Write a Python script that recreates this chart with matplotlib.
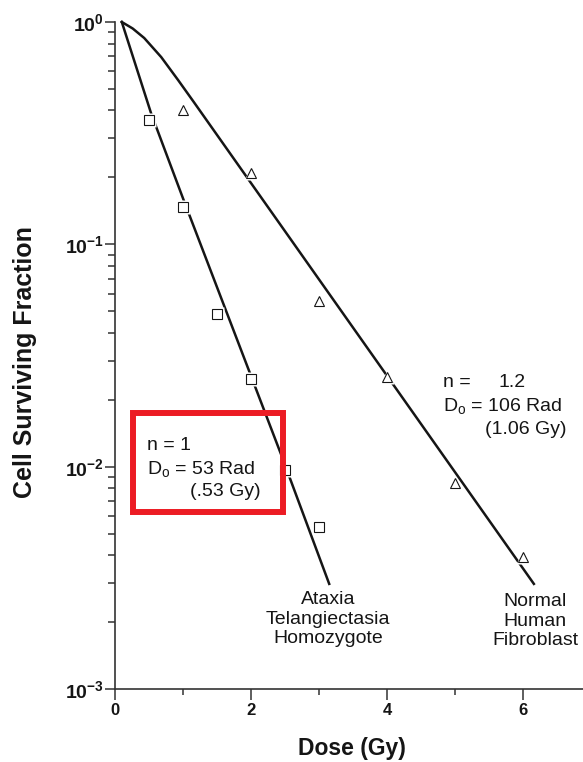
import numpy as np
import matplotlib
matplotlib.use('Agg')
import matplotlib.pyplot as plt
from matplotlib.patches import Rectangle
from matplotlib.ticker import FixedLocator, FuncFormatter

plt.rcParams['font.family'] = ['Liberation Sans', 'DejaVu Sans']
plt.rcParams['mathtext.fontset'] = 'custom'
plt.rcParams['mathtext.rm'] = 'Liberation Sans'
plt.rcParams['mathtext.it'] = 'Liberation Sans:italic'
plt.rcParams['mathtext.bf'] = 'Liberation Sans:bold'

# measured survival points
at_dose = [0.5, 1.0, 1.5, 2.0, 2.5, 3.0]
at_surv = [0.362, 0.147, 0.0484, 0.0247, 0.00969, 0.00537]
normal_dose = [1.0, 2.0, 3.0, 4.0, 5.0, 6.0]
normal_surv = [0.401, 0.209, 0.0554, 0.0252, 0.00847, 0.00394]

# fitted survival curves
at_fit_dose = [0.10, 0.53, 1.01, 2.44, 3.15]
at_fit_surv = [1.0, 0.389, 0.158, 0.0114, 0.00297]
normal_fit_dose = [0.10, 0.26, 0.43, 0.68, 0.93, 1.16, 2.25, 6.16]
normal_fit_surv = [1.0, 0.935, 0.847, 0.695, 0.547, 0.436, 0.147, 0.00297]

x_major = [0, 2, 4, 6]
x_minor = [1, 3, 5]
y_major = [1e-3, 1e-2, 1e-1, 1e0]

W, H = 583, 762
fig = plt.figure(figsize=(W / 100, H / 100), dpi=100)
ax = fig.add_axes([115 / W, 1 - 689 / H, 1 - 115 / W, (689 - 22) / H])

ink = '#151515'
ax.plot(at_fit_dose, at_fit_surv, color=ink, lw=1.8, zorder=2, clip_on=False,
        solid_joinstyle='round')
ax.plot(normal_fit_dose, normal_fit_surv, color=ink, lw=1.8, zorder=2,
        clip_on=False, solid_joinstyle='round')

# white halo under the open markers breaks the fit line around each point
ax.plot(at_dose, at_surv, ls='none', marker='s', ms=9.5, mfc='white',
        mec='none', zorder=3)
ax.plot(normal_dose, normal_surv, ls='none', marker='^', ms=9.5, mfc='white',
        mec='none', zorder=3)
ax.plot(at_dose, at_surv, ls='none', marker='s', ms=6.5, mfc='white',
        mec=ink, mew=0.8, zorder=4)
ax.plot(normal_dose, normal_surv, ls='none', marker='^', ms=6.8, mfc='white',
        mec=ink, mew=0.8, zorder=4)

ax.set_yscale('log')
ax.set_ylim(1e-3, 1)
ax.set_xlim(0, (W - 115) / 68)

ax.xaxis.set_major_locator(FixedLocator(x_major))
ax.xaxis.set_minor_locator(FixedLocator(x_minor))
ax.yaxis.set_major_locator(FixedLocator(y_major))
ax.yaxis.set_major_formatter(
    FuncFormatter(lambda v, p: r'$\mathbf{10^{%d}}$' % round(np.log10(v))))
ax.yaxis.set_minor_formatter(FuncFormatter(lambda v, p: ''))

for s in ['top', 'right']:
    ax.spines[s].set_visible(False)
for s in ['left', 'bottom']:
    ax.spines[s].set_linewidth(1.2)
    ax.spines[s].set_color('#333333')

ax.tick_params(axis='x', which='major', direction='out', length=8, width=1.1,
               pad=2, labelsize=12, colors='#333333', labelcolor=ink)
ax.tick_params(axis='x', which='minor', direction='out', length=4.5, width=1.1,
               colors='#333333')
ax.tick_params(axis='y', which='major', direction='out', length=7, width=1.1,
               pad=1, labelsize=14, colors='#333333', labelcolor=ink)
ax.tick_params(axis='y', which='minor', direction='out', length=5, width=1.1,
               colors='#333333')
for lab in ax.get_xticklabels():
    lab.set_fontweight('bold')

fig.text(352 / W, 1 - 749 / H, 'Dose (Gy)', ha='center', va='center',
         fontsize=16.5, fontweight='bold', color=ink)
fig.text(25.5 / W, 1 - 362 / H, 'Cell Surviving Fraction', ha='center',
         va='center', rotation=90, fontsize=18, fontweight='bold', color=ink)

txt = dict(fontsize=14, color=ink, va='center')

# D0 / n annotation for normal fibroblasts
fig.text(443 / W, 1 - 383 / H, 'n =', ha='left', **txt)
fig.text(498 / W, 1 - 383 / H, '1.2', ha='left', **txt)
fig.text(443 / W, 1 - 406 / H, r'D$_\mathrm{o}$ = 106 Rad', ha='left', **txt)
fig.text(485 / W, 1 - 429 / H, '(1.06 Gy)', ha='left', **txt)

# D0 / n annotation for AT cells
fig.text(147 / W, 1 - 446 / H, 'n = 1', ha='left', **txt)
fig.text(147 / W, 1 - 469 / H, r'D$_\mathrm{o}$ = 53 Rad', ha='left', **txt)
fig.text(190 / W, 1 - 492 / H, '(.53 Gy)', ha='left', **txt)

# curve names under the line ends
fig.text(328 / W, 1 - 619 / H, 'Ataxia\nTelangiectasia\nHomozygote',
         ha='center', va='center', fontsize=14, color=ink, linespacing=1.2)
fig.text(535 / W, 1 - 621 / H, 'Normal\nHuman\nFibroblast',
         ha='center', va='center', fontsize=14, color=ink, linespacing=1.2)

fig.add_artist(Rectangle((133 / W, 1 - 512 / H), 150 / W, 99 / H,
                         transform=fig.transFigure, fill=False,
                         edgecolor='#ec1c24', linewidth=4.3, zorder=10))

fig.savefig('out.png', dpi=100)
